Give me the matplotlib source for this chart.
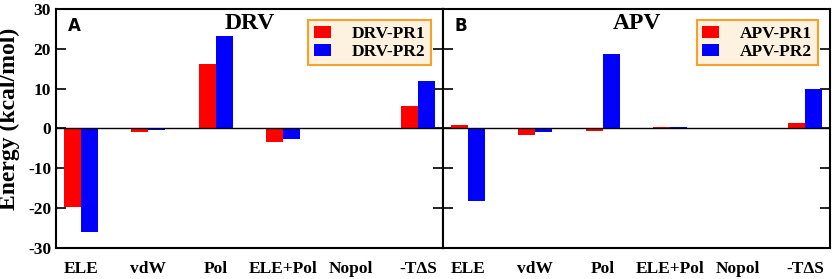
import numpy as np
import matplotlib.pyplot as plt

# energy terms (kcal/mol)
categories = ["ELE", "vdW", "Pol", "ELE+Pol", "Nopol", "-T\u0394S"]
drv_pr1 = [-19.7, -0.9, 16.3, -3.4, -0.2, 5.7]
drv_pr2 = [-25.9, -0.5, 23.3, -2.6, -0.2, 11.9]
apv_pr1 = [0.9, -1.7, -0.6, 0.4, -0.1, 1.3]
apv_pr2 = [-18.3, -0.9, 18.6, 0.4, -0.2, 9.8]
yticks = [-30, -20, -10, 0, 10, 20, 30]

plt.rcParams["font.family"] = ["Liberation Serif", "DejaVu Serif"]
plt.rcParams["font.weight"] = "bold"
plt.rcParams["axes.unicode_minus"] = False

fig = plt.figure(figsize=(8.35, 2.79), dpi=100)
ax1 = fig.add_axes([0.067, 0.111, 0.4635, 0.857])
ax2 = fig.add_axes([0.5305, 0.111, 0.4635, 0.857], sharey=ax1)

x = np.arange(len(categories))
w = 0.25
panels = [
    (ax1, drv_pr1, drv_pr2, "DRV", "A", ["DRV-PR1", "DRV-PR2"]),
    (ax2, apv_pr1, apv_pr2, "APV", "B", ["APV-PR1", "APV-PR2"]),
]

for ax, s1, s2, title, tag, labels in panels:
    ax.bar(x - w / 2, s1, w, color="#ff0000", label=labels[0], zorder=2)
    ax.bar(x + w / 2, s2, w, color="#0000ff", label=labels[1], zorder=2)
    ax.axhline(0, color="black", lw=1.0, zorder=3)
    ax.set_xlim(-0.37, 5.37)
    ax.set_ylim(-30, 30)
    ax.set_yticks(yticks)
    ax.set_xticks(x)
    ax.set_xticklabels(categories, fontsize=12.5, fontweight="bold")
    ax.tick_params(axis="x", length=0, pad=9)
    ax.tick_params(axis="y", direction="in", length=7, width=1.2, labelsize=12.5,
                   left=True, right=True)
    for sp in ax.spines.values():
        sp.set_linewidth(1.5)
    ax.text(0.5, 0.937, title, transform=ax.transAxes, ha="center", va="center",
            fontsize=17, fontweight="bold")
    ax.text(0.031, 0.927, tag, transform=ax.transAxes, ha="left", va="center",
            fontsize=12, fontweight="bold", family="DejaVu Sans")
    leg = ax.legend(loc="upper right", bbox_to_anchor=(0.968, 0.952), fontsize=12.5,
                    frameon=True, fancybox=False, handlelength=1.0, handleheight=0.7,
                    borderpad=0.3, labelspacing=0.1, handletextpad=1.2,
                    borderaxespad=0)
    fr = leg.get_frame()
    fr.set_facecolor("#fdf1df")
    fr.set_edgecolor("#f7a12a")
    fr.set_linewidth(1.5)
    fr.set_alpha(1)

ax1.set_ylabel("Energy (kcal/mol)", fontsize=17, fontweight="bold")
ax1.yaxis.set_label_coords(-0.093, 0.54)
ax2.tick_params(axis="y", labelleft=False)

fig.savefig("out.png", dpi=100)
